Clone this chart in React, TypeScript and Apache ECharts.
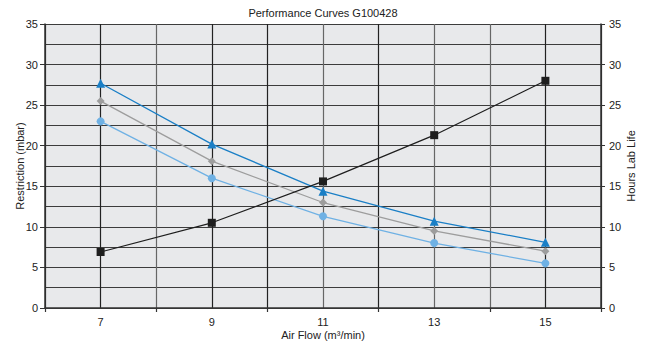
import React, { useEffect, useRef } from "react";
import * as echarts from "echarts";

const airFlow = [7, 9, 11, 13, 15];
const restrictionA = [27.7, 20.2, 14.4, 10.7, 8.1];
const restrictionB = [25.5, 18.1, 13.0, 9.5, 7.0];
const restrictionC = [23.0, 16.0, 11.3, 8.0, 5.5];
const hoursLabLife = [6.9, 10.5, 15.6, 21.3, 28.0];
const yTicks = [0, 5, 10, 15, 20, 25, 30, 35];

const FONT = "'Liberation Sans Narrow', 'Arial Narrow', 'Liberation Sans', sans-serif";
const TXT = "#222";

export default function App() {
  const ref = useRef<HTMLDivElement>(null);
  useEffect(() => {
    if (!ref.current) return;
    const chart = echarts.init(ref.current, null, { renderer: "svg" });
    const pair = (ys: number[]) => airFlow.map((x, i) => [x, ys[i]]);
    const vColors = ["#222", "#222", "#666", "#222", "#222", "#666", "#222", "#666", "#666", "#222", "#222"];
    chart.setOption({
      animation: false,
      backgroundColor: "#fff",
      title: {
        text: "Performance Curves G100428",
        left: "center",
        top: 2,
        textStyle: { fontFamily: FONT, fontSize: 11, fontWeight: "normal", color: TXT },
      },
      grid: {
        left: 45,
        right: 45,
        top: 24,
        bottom: 34,
        show: true,
        backgroundColor: "#e8e9eb",
        borderWidth: 0,
        containLabel: false,
        outerBoundsMode: "none",
      },
      xAxis: [
        {
          type: "value",
          min: 6,
          max: 16,
          interval: 1,
          position: "bottom",
          name: "Air Flow (m³/min)",
          nameLocation: "middle",
          nameGap: 21,
          nameMoveOverlap: false,
          nameTextStyle: { fontFamily: FONT, fontSize: 11, color: TXT },
          axisLine: { show: true, lineStyle: { color: "#333", width: 1.5 } },
          axisTick: { show: false },
          axisLabel: {
            fontFamily: FONT,
            fontSize: 11,
            color: TXT,
            margin: 8,
            formatter: (v: number) => (airFlow.includes(v) ? String(v) : ""),
          },
          splitLine: { show: true, lineStyle: { color: vColors, width: 1.2 } },
        },
        {
          type: "value",
          min: 6,
          max: 16,
          interval: 2,
          position: "bottom",
          axisLine: { show: false },
          axisTick: { show: true, length: 4, lineStyle: { color: "#333", width: 1.2 } },
          axisLabel: { show: false },
          splitLine: { show: false },
        },
      ],
      yAxis: [
        {
          type: "value",
          min: 0,
          max: 35,
          interval: 5,
          position: "left",
          name: "Restriction (mbar)",
          nameLocation: "middle",
          nameGap: 20,
          nameMoveOverlap: false,
          nameTextStyle: { fontFamily: FONT, fontSize: 11, color: TXT },
          axisLine: { show: true, lineStyle: { color: "#333", width: 1.5 } },
          axisTick: { show: true, length: 5, lineStyle: { color: "#333" } },
          axisLabel: {
            fontFamily: FONT,
            fontSize: 11,
            color: TXT,
            margin: 7,
            formatter: (v: number) => (yTicks.includes(v) ? String(v) : ""),
          },
          splitLine: { show: false },
        },
        {
          type: "value",
          min: 0,
          max: 35,
          interval: 5,
          position: "right",
          name: "Hours Lab Life",
          nameLocation: "middle",
          nameGap: 24,
          nameRotate: 90,
          nameMoveOverlap: false,
          nameTextStyle: { fontFamily: FONT, fontSize: 11, color: TXT },
          axisLine: { show: true, lineStyle: { color: "#333", width: 1.5 } },
          axisTick: { show: true, length: 4, lineStyle: { color: "#333" } },
          axisLabel: {
            fontFamily: FONT,
            fontSize: 11,
            color: TXT,
            margin: 8,
            formatter: (v: number) => (yTicks.includes(v) ? String(v) : ""),
          },
          splitLine: { show: false },
        },
        {
          type: "value",
          min: 0,
          max: 35,
          interval: 2.5,
          position: "left",
          axisLine: { show: false },
          axisTick: { show: false },
          axisLabel: { show: false },
          splitLine: { show: true, lineStyle: { color: "#3c3c3c", width: 1.2 } },
        },
      ],
      series: [
        {
          type: "line",
          name: "Restriction A",
          data: pair(restrictionA),
          yAxisIndex: 0,
          symbol: "triangle",
          symbolSize: 9,
          lineStyle: { color: "#1a7fc6", width: 1.3 },
          itemStyle: { color: "#1a7fc6" },
          z: 5,
        },
        {
          type: "line",
          name: "Restriction B",
          data: pair(restrictionB),
          yAxisIndex: 0,
          symbol: "diamond",
          symbolSize: 8,
          lineStyle: { color: "#9d9d9d", width: 1.3 },
          itemStyle: { color: "#9d9d9d" },
          z: 4,
        },
        {
          type: "line",
          name: "Restriction C",
          data: pair(restrictionC),
          yAxisIndex: 0,
          symbol: "circle",
          symbolSize: 8,
          lineStyle: { color: "#6fb1e4", width: 1.3 },
          itemStyle: { color: "#6fb1e4" },
          z: 4,
        },
        {
          type: "line",
          name: "Hours Lab Life",
          data: pair(hoursLabLife),
          yAxisIndex: 1,
          symbol: "rect",
          symbolSize: 8,
          lineStyle: { color: "#1e1e1e", width: 1.2 },
          itemStyle: { color: "#1e1e1e" },
          z: 6,
        },
      ],
    });
    return () => chart.dispose();
  }, []);
  return <div ref={ref} style={{ width: 646, height: 342, position: "absolute", left: 0, top: 0 }} />;
}
